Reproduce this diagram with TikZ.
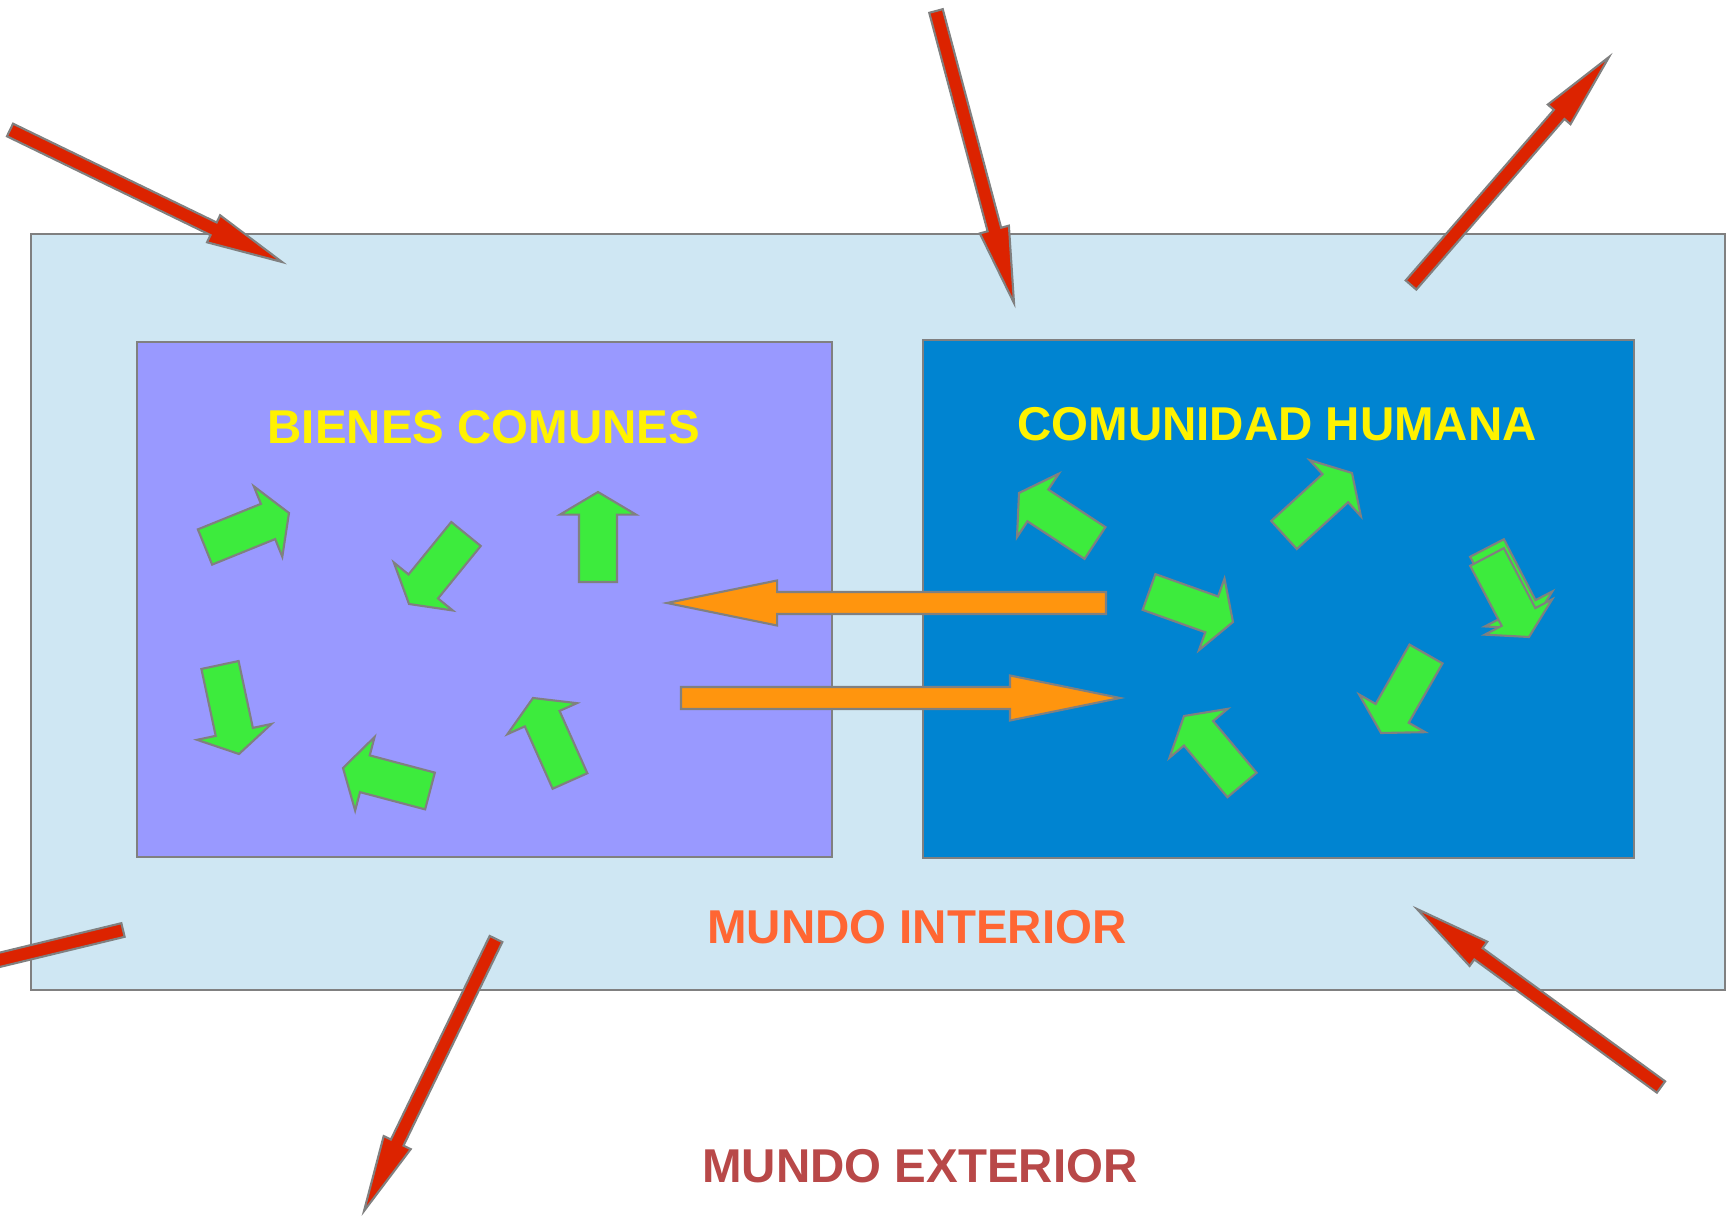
\documentclass[tikz,border=0pt]{standalone}
\usepackage{fontspec}
\setmainfont{Liberation Sans}
\usetikzlibrary{calc}

\definecolor{lightsky}{HTML}{CFE7F3}
\definecolor{lilac}{HTML}{9999FF}
\definecolor{deepblue}{HTML}{0084D1}
\definecolor{leafgreen}{HTML}{3DEB3D}
\definecolor{floworange}{HTML}{FF950E}
\definecolor{forcered}{HTML}{DC2300}
\definecolor{edgegray}{HTML}{808080}
\definecolor{interiorcol}{HTML}{FF6633}
\definecolor{exteriorcol}{HTML}{B84848}

% block arrow: style, tail, tip, half shaft, half head, head length
\newcommand{\blockarrow}[6]{%
  \coordinate (ba) at ($(#3)!#6!(#2)$);
  \draw[#1] ($(#2)!#4!90:(#3)$) -- ($(ba)!#4!90:(#3)$) -- ($(ba)!#5!90:(#3)$) -- (#3)
    -- ($(ba)!#5!-90:(#3)$) -- ($(ba)!#4!-90:(#3)$) -- ($(#2)!#4!-90:(#3)$) -- cycle;
}

\begin{document}
\begin{tikzpicture}[x=0.01cm, y=-0.01cm,
    box/.style={draw=edgegray, line width=0.6pt},
    redarrow/.style={draw=edgegray, line width=0.6pt, fill=forcered},
    greenarrow/.style={draw=edgegray, line width=0.6pt, fill=leafgreen},
    orangearrow/.style={draw=edgegray, line width=0.6pt, fill=floworange},
    heading/.style={font=\fontsize{13.5}{16}\selectfont\bfseries, inner sep=0pt}]
	\useasboundingbox (0,0) rectangle (1727,1216);
	\clip (0,0) rectangle (1727,1216);

	% worlds
	\draw[box, fill=lightsky] (31,234) rectangle (1725,990);
	\draw[box, fill=lilac] (137,342) rectangle (832,857);
	\draw[box, fill=deepblue] (923,340) rectangle (1634,858);

	\node[heading, text=yellow] (bienes) at (484,427) {BIENES COMUNES};
	\node[heading, text=yellow] (comunidad) at (1277,424) {COMUNIDAD HUMANA};
	\node[heading, text=interiorcol] (interior) at (917,927) {MUNDO INTERIOR};
	\node[heading, text=exteriorcol] (exterior) at (920,1166) {MUNDO EXTERIOR};

	% red arrows crossing the border
	\foreach \tx/\ty/\hx/\hy in {10/130/282/262, 936/11/1014/303, 1411/285/1609/57,
	                             123/930/-150/996, 496/939/364/1211, 1661/1087/1417/909}{
		\coordinate (rtail) at (\tx,\ty);
		\coordinate (rtip) at (\hx,\hy);
		\blockarrow{redarrow}{rtail}{rtip}{0.07cm}{0.15cm}{0.76cm}
	}

	% orange exchange
	\coordinate (otail1) at (1106,603);
	\coordinate (otip1) at (667,603);
	\coordinate (otail2) at (681,698);
	\coordinate (otip2) at (1120,698);
	\blockarrow{orangearrow}{otail1}{otip1}{0.11cm}{0.225cm}{1.1cm}
	\blockarrow{orangearrow}{otail2}{otip2}{0.11cm}{0.225cm}{1.1cm}

	% green arrows
	\foreach \tx/\ty/\hx/\hy in {205/547/289/513, 466/534/409/604, 598/582/598/492,
	                             220/665/239/754, 430/791/343/768, 570/781/533/698,
	                             1095/543/1019/493, 1284/535/1352/473, 1149/592/1233/622,
	                             1487/548/1529/629, 1487/557/1529/637, 1426/654/1381/733,
	                             1242/785/1184/716}{
		\coordinate (gtail) at (\tx,\ty);
		\coordinate (gtip) at (\hx,\hy);
		\blockarrow{greenarrow}{gtail}{gtip}{0.19cm}{0.38cm}{0.226cm}
	}
\end{tikzpicture}
\end{document}
